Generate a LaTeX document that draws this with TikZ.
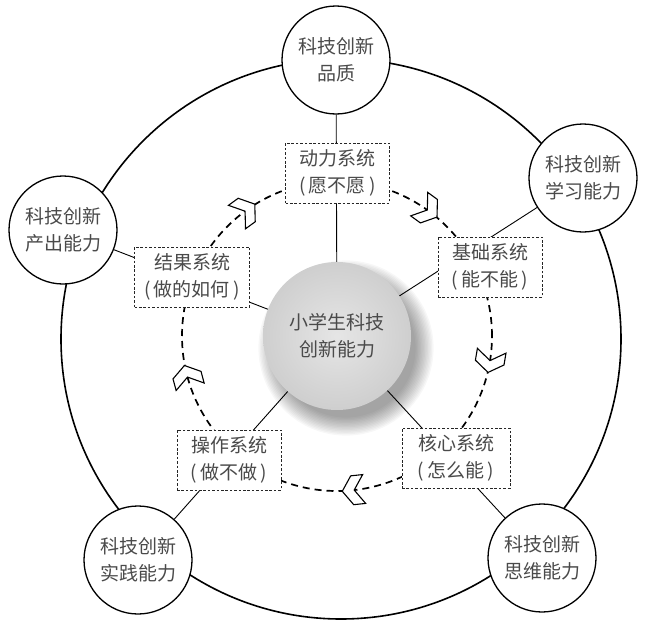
\documentclass[tikz,border=0pt]{standalone}
\usepackage{fontspec}
\setmainfont{Noto Sans CJK SC}
\usetikzlibrary{calc,backgrounds}
\definecolor{txt}{HTML}{4A4A4A}
\tikzset{
  flowchev/.pic={\draw[chev] (11,0) -- (1,14.5) -- (-11,14.5) -- (-1,0) -- (-11,-14.5) -- (1,-14.5) -- cycle;}
}
\begin{document}
\begin{tikzpicture}[x=1pt,y=1pt,
  cjk/.style={font=\fontsize{19}{27}\selectfont,text=txt,align=center},
  outer/.style={cjk,circle,draw=black,line width=1.3pt,fill=white,minimum size=108pt,inner sep=0pt},
  hub/.style={cjk,circle,minimum size=148pt,inner sep=0pt,shading=radial,inner color=gray!20,outer color=gray!38},
  sysbox/.style={cjk,draw=black!85,dash pattern=on 2.6pt off 1.8pt,line width=0.8pt,fill=white,minimum width=104pt,minimum height=60pt,inner sep=2pt},
  link/.style={line width=0.9pt,black},
  ring/.style={line width=1.6pt,black},
  flow/.style={dash pattern=on 7pt off 5pt,line width=1.7pt,black},
  chev/.style={draw=black,line width=1.1pt,fill=white,line join=miter}
]
\useasboundingbox (0,0) rectangle (645,-621);
\coordinate (C) at (337,-336);
% soft shadow of the hub (bottom right)
\foreach \i in {1,...,14}{
  \fill[black,opacity=0.03] (346,-348) circle ({68+1.4*\i});
}
% nodes
\node[hub] (hub) at (C) {小学生科技\\创新能力};
\node[outer] (top) at (336,-60) {科技创新\\品质};
\node[outer] (right) at (583,-178) {科技创新\\学习能力};
\node[outer] (left) at (63,-230) {科技创新\\产出能力};
\node[outer] (bl) at (138,-560) {科技创新\\实践能力};
\node[outer] (br) at (542,-558) {科技创新\\思维能力};
\begin{scope}[on background layer]
  \draw[ring] (341,-339) circle (280);
  \draw[flow] (C) circle (155);
  \foreach \o in {top,right,left,bl,br}{
    \draw[link] (hub) -- (\o);
  }
\end{scope}
% system boxes
\node[sysbox] (dongli) at (337.5,-173) {动力系统\\(\,愿不愿\,)};
\node[sysbox] (jichu) at (490,-267) {基础系统\\(\,能不能\,)};
\node[sysbox,minimum width=108pt] (hexin) at (456,-458) {核心系统\\(\,怎么能\,)};
\node[sysbox] (caozuo) at (229,-460) {操作系统\\(\,做不做\,)};
\node[sysbox,minimum width=115pt] (jieguo) at (192,-277) {结果系统\\(\,做的如何\,)};
% direction chevrons on the flow ring
\foreach \a in {126,54,-9.5,-84,-165}{
  \pic[rotate=\a-90] at ($(C)+(\a:155)$) {flowchev};
}
\end{tikzpicture}
\end{document}
